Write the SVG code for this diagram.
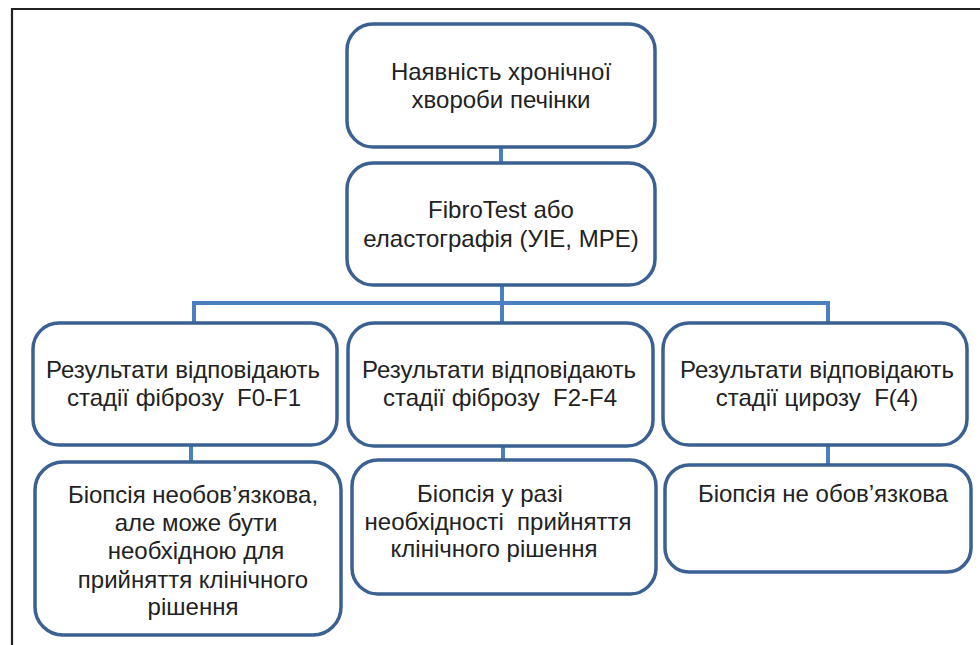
<svg xmlns="http://www.w3.org/2000/svg" width="980" height="645" viewBox="0 0 980 645">
<style>
.box{fill:#fff;stroke:#3a6191;stroke-width:3.5}
.con{stroke:#4a7fc0;stroke-width:4;fill:none}
.t{font-family:"Liberation Sans",Arial,sans-serif;font-size:24px;fill:#222;text-anchor:middle;white-space:pre}
.frame{stroke:#222;stroke-width:2.2;fill:none}
</style>
<rect width="980" height="645" fill="#fff"/>
<path class="frame" d="M12 645 V9 H980"/>
<g id="connectors">
<line class="con" x1="501" y1="147" x2="501" y2="163"/>
<line class="con" x1="502" y1="285" x2="502" y2="323"/>
<polyline class="con" points="194,323 194,303 828,303 828,323"/>
<line class="con" x1="191" y1="445" x2="191" y2="462"/>
<line class="con" x1="503" y1="446" x2="503" y2="460"/>
<line class="con" x1="828" y1="445" x2="828" y2="465"/>
</g>
<g id="n1">
<rect class="box" x="347" y="24" width="308" height="123" rx="26"/>
<text class="t" x="501" y="80">Наявність хронічної</text>
<text class="t" x="501" y="108">хвороби печінки</text>
</g>
<g id="n2">
<rect class="box" x="347" y="163" width="308" height="122" rx="26"/>
<text class="t" x="501" y="218">FibroTest або</text>
<text class="t" x="501" y="247">еластографія (УІЕ, МРЕ)</text>
</g>
<g id="n3">
<rect class="box" x="33" y="323" width="304" height="122" rx="26"/>
<text class="t" x="183" y="378">Результати відповідають</text>
<text class="t" x="184" y="406" xml:space="preserve">стадії фіброзу  F0-F1</text>
</g>
<g id="n4">
<rect class="box" x="348" y="323" width="305" height="123" rx="26"/>
<text class="t" x="499" y="378">Результати відповідають</text>
<text class="t" x="500" y="406" xml:space="preserve">стадії фіброзу  F2-F4</text>
</g>
<g id="n5">
<rect class="box" x="663" y="323" width="304" height="122" rx="26"/>
<text class="t" x="817" y="378">Результати відповідають</text>
<text class="t" x="817" y="406" xml:space="preserve">стадії цирозу  F(4)</text>
</g>
<g id="n6">
<rect class="box" x="35" y="462" width="306" height="173" rx="28"/>
<text class="t" x="193" y="503">Біопсія необов’язкова,</text>
<text class="t" x="196" y="531">але може бути</text>
<text class="t" x="196" y="559">необхідною для</text>
<text class="t" x="193" y="588">прийняття клінічного</text>
<text class="t" x="193" y="615">рішення</text>
</g>
<g id="n7">
<rect class="box" x="352" y="460" width="304" height="134" rx="26"/>
<text class="t" x="490" y="502">Біопсія у разі</text>
<text class="t" x="498" y="530" xml:space="preserve">необхідності  прийняття</text>
<text class="t" x="494" y="557">клінічного рішення</text>
</g>
<g id="n8">
<rect class="box" x="665" y="465" width="306" height="107" rx="24"/>
<text class="t" x="823" y="502">Біопсія не обов’язкова</text>
</g>
</svg>
